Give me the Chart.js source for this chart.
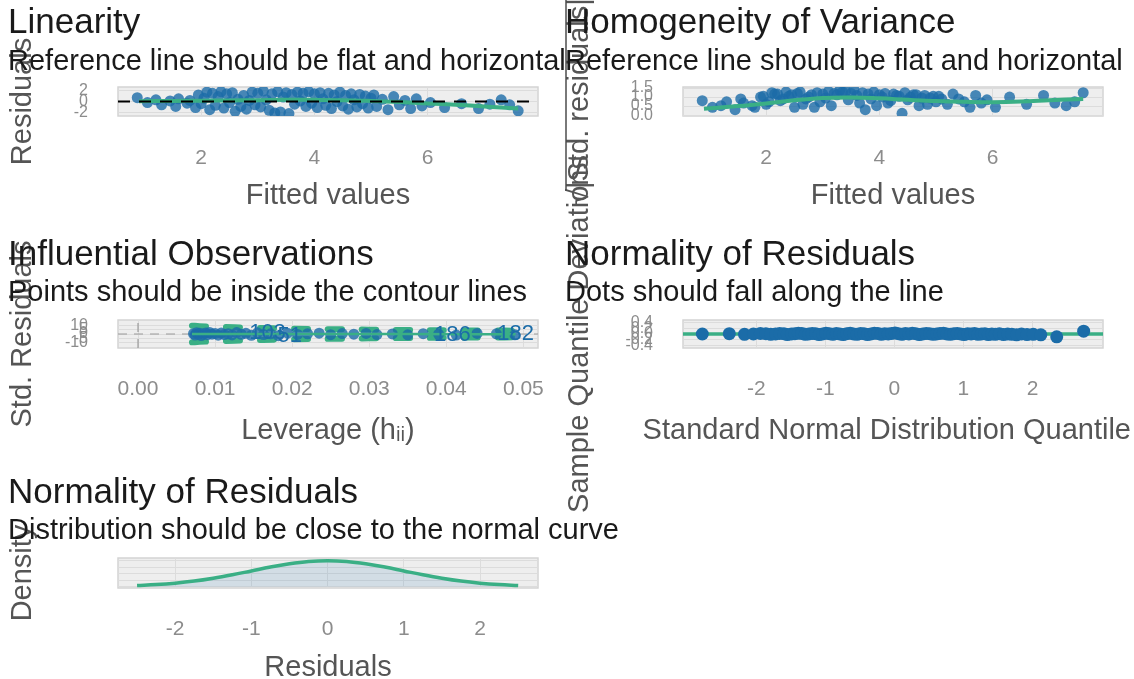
<!DOCTYPE html>
<html>
<head>
<meta charset="utf-8">
<script src="https://cdn.jsdelivr.net/npm/chart.js@4.4.1/dist/chart.umd.min.js"></script>
<style>
  body { margin: 0; background: #fff; }
  #wrap { position: relative; width: 1134px; height: 679px; overflow: hidden; }
  #wrap canvas { position: absolute; left: 0; top: 0; }
</style>
</head>
<body>
<div id="wrap">
  <canvas id="linearity" width="1134" height="679"></canvas>
  <canvas id="homogeneity" width="1134" height="679"></canvas>
  <canvas id="influential" width="1134" height="679"></canvas>
  <canvas id="qq" width="1134" height="679"></canvas>
  <canvas id="density" width="1134" height="679"></canvas>
</div>
<script>
// data

// fitted values / residuals (linearity + homogeneity share the x values)
const fitted = [
  0.87, 1.05, 1.2, 1.3, 1.45, 1.55, 1.6, 1.75, 1.8, 1.9,
  1.95, 2.0, 2.05, 2.1, 2.15, 2.2, 2.25, 2.3, 2.35, 2.4,
  2.45, 2.5, 2.55, 2.6, 2.65, 2.7, 2.75, 2.8, 2.85, 2.9,
  2.95, 3.0, 3.05, 3.1, 3.15, 3.2, 3.25, 3.3, 3.35, 3.4,
  3.45, 3.5, 3.55, 3.6, 3.65, 3.7, 3.75, 3.8, 3.85, 3.9,
  3.95, 4.0, 4.05, 4.1, 4.15, 4.2, 4.25, 4.3, 4.35, 4.4,
  4.45, 4.5, 4.55, 4.6, 4.65, 4.7, 4.75, 4.8, 4.85, 4.9,
  4.95, 5.0, 5.05, 5.1, 5.2, 5.3, 5.4, 5.5, 5.6, 5.7,
  5.8, 5.9, 6.05, 6.3, 6.6, 6.9, 7.1, 7.3, 7.45, 7.6
];
const residuals = [
  0.7, -0.2, 0.3, -0.6, 0.1, -0.9, 0.5, -0.3, 0.2, -1.1,
  1.2, -0.4, 0.6, 1.7, -1.5, 1.5, -0.7, 0.9, 1.8, -1.2,
  1.4, -0.2, 1.6, -1.8, 0.4, -0.9, 1.1, -1.4, 0.2, 1.7,
  -0.6, 1.5, -1.0, 1.9, 0.3, -1.6, 1.4, -2.1, 1.8, -1.9,
  0.8, 1.6, -2.2, 1.3, -0.5, 1.7, 0.1, 1.5, -0.9, 1.8,
  -0.3, 1.4, -1.1, 1.6, 0.5, -0.7, 1.5, -1.3, 1.2, 0.0,
  1.7, -0.8, 1.1, -1.4, 1.4, 0.3, -1.0, 1.3, -0.4, 1.0,
  -1.2, 0.6, 1.2, -0.9, 0.4, -1.5, 0.9, -0.6, 0.2, -1.3,
  0.5, -0.8, -0.2, -1.1, -0.4, -1.3, -0.5, 0.3, -0.6, -1.7
];
const sqrtStdResid = [
  0.8, 0.43, 0.52, 0.74, 0.3, 0.9, 0.67, 0.52, 0.43, 1.0,
  1.04, 0.6, 0.74, 1.24, 1.17, 1.17, 0.8, 0.9, 1.28, 1.04,
  1.13, 0.43, 1.2, 1.28, 0.6, 0.9, 1.0, 1.13, 0.43, 1.24,
  0.74, 1.17, 0.95, 1.31, 0.52, 1.2, 1.13, 1.38, 1.28, 1.31,
  0.85, 1.2, 1.41, 1.09, 0.67, 1.24, 0.3, 1.17, 0.9, 1.28,
  0.52, 1.13, 1.0, 1.2, 0.67, 0.8, 1.17, 1.09, 1.04, 0.1,
  1.24, 0.85, 1.0, 1.13, 1.13, 0.52, 0.95, 1.09, 0.6, 0.95,
  1.04, 0.74, 1.04, 0.9, 0.6, 1.17, 0.9, 0.74, 0.43, 1.09,
  0.67, 0.85, 0.43, 1.0, 0.6, 1.09, 0.67, 0.52, 0.74, 1.24
];
const smoothX = [0.9, 1.5, 2, 2.5, 3, 3.5, 4, 4.5, 5, 5.5, 6, 6.5, 7, 7.6];
const linSmoothY = [0.05, 0.1, 0.15, 0.2, 0.25, 0.3, 0.3, 0.25, 0.1, -0.1, -0.35, -0.6, -0.9, -1.3];
const homSmoothY = [0.35, 0.5, 0.65, 0.82, 0.95, 0.98, 0.93, 0.85, 0.78, 0.74, 0.72, 0.75, 0.82, 0.9];

// leverage / standardized residuals
const leverage = [
  0.0072, 0.0074, 0.0076, 0.0078, 0.008, 0.0082, 0.0085, 0.0088, 0.009, 0.0093,
  0.0096, 0.01, 0.0104, 0.0108, 0.0112, 0.0117, 0.0122, 0.0128, 0.0134, 0.014,
  0.0147, 0.0155, 0.0163, 0.0172, 0.0182, 0.0194, 0.0207, 0.022, 0.0235, 0.025,
  0.0265, 0.028, 0.0296, 0.031, 0.033, 0.035, 0.037, 0.039, 0.0413, 0.044,
  0.0465, 0.0489
];
const stdResid = [
  0.3, -1.2, 1.5, -0.4, 0.9, -1.8, 0.1, 1.2, -0.8, 1.7,
  -0.2, 0.6, -1.4, 1.1, -0.6, 0.4, -1.0, 1.6, -0.3, 0.8,
  -1.5, 1.3, -0.7, 0.2, -1.9, 0.9, -0.5, 0.3, 1.0, -0.8,
  0.5, -0.2, 0.7, -0.6, 0.1, -0.9, 0.4, -0.3, -1.2, 0.6,
  0.2, -0.9
];
const infSmoothX = [0.007, 0.015, 0.025, 0.035, 0.049];
const infSmoothY = [0.1, 0.0, -0.05, -0.1, -0.2];
const cookLev = [0.007, 0.008, 0.01, 0.0125, 0.015, 0.0175, 0.02, 0.025, 0.03, 0.035, 0.04, 0.045, 0.05];
const cookUpper = [9.5, 9.0, 8.3, 7.6, 7.0, 6.5, 6.1, 5.5, 5.0, 4.6, 4.3, 4.0, 3.8];
const cookLower = [-9.5, -9.0, -8.3, -7.6, -7.0, -6.5, -6.1, -5.5, -5.0, -4.6, -4.3, -4.0, -3.8];
const labelIds = ['103', '51', '186', '182'];
const labelLev = [0.0168, 0.0197, 0.0408, 0.049];
const labelStd = [1.0, -2.4, -1.2, -0.4];

// detrended qq
const qqTheo = [
  -2.78, -2.39, -2.17, -2.04, -1.94, -1.86, -1.79, -1.72, -1.66, -1.6,
  -1.55, -1.49, -1.44, -1.39, -1.34, -1.29, -1.24, -1.19, -1.14, -1.09,
  -1.04, -0.99, -0.94, -0.89, -0.84, -0.79, -0.74, -0.69, -0.64, -0.59,
  -0.54, -0.49, -0.44, -0.39, -0.34, -0.29, -0.24, -0.19, -0.14, -0.09,
  -0.04, 0.01, 0.06, 0.11, 0.16, 0.21, 0.26, 0.31, 0.36, 0.41,
  0.46, 0.51, 0.56, 0.61, 0.66, 0.71, 0.76, 0.81, 0.86, 0.91,
  0.96, 1.01, 1.06, 1.11, 1.16, 1.21, 1.26, 1.31, 1.36, 1.41,
  1.46, 1.52, 1.58, 1.64, 1.7, 1.77, 1.84, 1.92, 2.01, 2.12,
  2.35, 2.74
];
const qqDev = [
  0.0, 0.01, -0.01, 0.0, 0.02, 0.01, -0.01, 0.0, 0.02, 0.01,
  -0.02, 0.0, 0.01, 0.03, 0.02, -0.01, 0.0, 0.02, 0.01, -0.02,
  0.0, 0.03, 0.01, -0.01, 0.02, 0.0, -0.02, 0.01, 0.03, 0.0,
  -0.01, 0.02, 0.01, -0.02, 0.0, 0.03, 0.02, -0.01, 0.01, 0.0,
  0.02, 0.04, 0.01, -0.01, 0.02, 0.0, 0.03, 0.01, -0.02, 0.0,
  0.02, 0.01, -0.01, 0.0, 0.02, 0.03, 0.0, -0.01, 0.01, 0.02,
  0.0, -0.02, 0.01, 0.0, 0.02, -0.01, 0.0, 0.01, -0.02, 0.0,
  -0.01, 0.01, -0.02, 0.0, -0.01, -0.03, 0.0, -0.02, -0.01, -0.03,
  -0.1, 0.1
];

// residual density vs normal curve
const densX = [-2.5, -2.25, -2, -1.75, -1.5, -1.25, -1, -0.75, -0.5, -0.25, 0, 0.25, 0.5, 0.75, 1, 1.25, 1.5, 1.75, 2, 2.25, 2.5];
const normalY = [0.018, 0.032, 0.054, 0.086, 0.13, 0.183, 0.242, 0.301, 0.352, 0.387, 0.399, 0.387, 0.352, 0.301, 0.242, 0.183, 0.13, 0.086, 0.054, 0.032, 0.018];
const residDensY = [0.02, 0.034, 0.056, 0.09, 0.134, 0.186, 0.245, 0.303, 0.352, 0.386, 0.398, 0.389, 0.356, 0.305, 0.244, 0.182, 0.127, 0.083, 0.05, 0.029, 0.016];

// tick labels
const fitTicks = [2, 4, 6];
const residTicks = [-2, 0, 2];
const homTicks = [0, 0.5, 1, 1.5];
const levTicks = [0, 0.01, 0.02, 0.03, 0.04, 0.05];
const stdTicks = [-10, -5, 0, 5, 10];
const qqTicks = [-2, -1, 0, 1, 2];
const qqYTicks = [-0.4, -0.2, 0, 0.2, 0.4];
const densTicks = [-2, -1, 0, 1, 2];

const homYTitle = '\u221A|Std. residuals|';
const qqXTitle = 'Standard Normal Distribution Quantile';

const BLUE = 'rgba(27, 108, 168, 0.8)';
const GREEN = '#3aaf85';
const FONT = "'Liberation Sans', Arial, Helvetica, sans-serif";
Chart.defaults.font.family = FONT;

function pts(xs, ys) {
    return xs.map((x, i) => ({ x: x, y: ys[i] }));
}

// grey panel behind every plot
const panelBg = {
    id: 'panelBg',
    beforeDraw(chart) {
        const a = chart.chartArea, ctx = chart.ctx;
        ctx.save();
        ctx.fillStyle = '#eeeeee';
        ctx.fillRect(a.left, a.top, a.width, a.height);
        ctx.strokeStyle = '#d4d4d4';
        ctx.lineWidth = 1.5;
        ctx.strokeRect(a.left, a.top, a.width, a.height);
        ctx.restore();
    }
};

// let title / subtitle run past the plot instead of being squeezed
const wideTitles = {
    id: 'wideTitles',
    afterLayout(chart) {
        chart.boxes.forEach(b => {
            if (b instanceof Chart.Title._element) b.right = chart.width;
        });
    }
};

// point ids in the leverage plot
const obsLabels = {
    id: 'obsLabels',
    afterDatasetsDraw(chart) {
        const ctx = chart.ctx, x = chart.scales.x, y = chart.scales.y;
        ctx.save();
        ctx.font = '22px ' + FONT;
        ctx.fillStyle = '#1b6ca8';
        ctx.textAlign = 'center';
        ctx.textBaseline = 'middle';
        for (let i = 0; i < labelIds.length; i++) {
            ctx.fillText(labelIds[i], x.getPixelForValue(labelLev[i]), y.getPixelForValue(labelStd[i]));
        }
        ctx.restore();
    }
};

// bar of the square root sign in the rotated y title
const sqrtBar = {
    id: 'sqrtBar',
    afterDraw(chart) {
        const ctx = chart.ctx, y = chart.scales.y, a = chart.chartArea;
        ctx.save();
        ctx.font = '29px ' + FONT;
        const full = ctx.measureText(homYTitle).width;
        const rad = ctx.measureText('\u221A').width;
        const cy = (a.top + a.bottom) / 2;
        ctx.strokeStyle = '#4d4d4d';
        ctx.lineWidth = 1.5;
        ctx.beginPath();
        ctx.moveTo(y.left + 1, cy + full / 2 - rad + 2);
        ctx.lineTo(y.left + 1, cy - full / 2);
        ctx.stroke();
        ctx.restore();
    }
};

// long x title of the qq plot, not squeezed to the panel width
const qqTitle = {
    id: 'qqTitle',
    afterDraw(chart) {
        const ctx = chart.ctx, x = chart.scales.x;
        ctx.save();
        ctx.font = '29px ' + FONT;
        ctx.fillStyle = '#555555';
        ctx.textAlign = 'center';
        ctx.textBaseline = 'middle';
        const w = ctx.measureText(qqXTitle).width;
        const cx = Math.min((x.left + x.right) / 2, chart.width - w / 2 - 3);
        ctx.fillText(qqXTitle, cx, x.bottom - 11.5);
        ctx.restore();
    }
};

function panel(id, o) {
    return new Chart(document.getElementById(id), {
        type: 'scatter',
        data: { datasets: o.datasets },
        plugins: [panelBg, wideTitles].concat(o.plugins || []),
        options: {
            responsive: false,
            animation: false,
            events: [],
            layout: { padding: o.pad },
            plugins: {
                legend: { display: false },
                tooltip: { enabled: false },
                title: {
                    display: true, text: o.title, align: 'start', color: '#1a1a1a',
                    font: { size: 35, weight: 'normal', lineHeight: 1.2 },
                    padding: o.titlePad
                },
                subtitle: {
                    display: true, text: o.subtitle, align: 'start', color: '#1a1a1a',
                    font: { size: 29, lineHeight: 1.2 },
                    padding: o.subPad
                }
            },
            scales: {
                x: {
                    type: 'linear', min: o.xMin, max: o.xMax,
                    afterBuildTicks: a => { a.ticks = o.xTicks.map(v => ({ value: v })); },
                    afterFit: a => { a.height = o.xH; },
                    grid: { color: '#dcdcdc', drawTicks: false },
                    border: { display: false },
                    ticks: {
                        autoSkip: false, maxRotation: 0, padding: o.xPad, color: '#8c8c8c',
                        font: { size: 21 },
                        callback: v => o.xFmt !== undefined ? v.toFixed(o.xFmt) : String(v)
                    },
                    title: {
                        display: !!o.xTitle, text: o.xTitle, color: '#555555',
                        font: { size: 29, lineHeight: 1 }, padding: { top: 0, bottom: -3 }
                    }
                },
                y: {
                    type: 'linear', min: o.yMin, max: o.yMax,
                    afterBuildTicks: a => { a.ticks = o.yTicks.map(v => ({ value: v })); },
                    afterFit: a => { a.width = o.yW; },
                    grid: { color: '#dcdcdc', drawTicks: false },
                    border: { display: false },
                    ticks: {
                        display: o.yTickShow !== false,
                        autoSkip: false, padding: 30, color: '#8c8c8c',
                        font: { size: 16 },
                        callback: v => o.yFmt !== undefined ? v.toFixed(o.yFmt) : String(v)
                    },
                    title: {
                        display: true, text: o.yTitle, color: '#555555',
                        font: { size: 29, lineHeight: 1 }, padding: 0
                    }
                }
            }
        }
    });
}

// Linearity
panel('linearity', {
    title: 'Linearity',
    subtitle: 'Reference line should be flat and horizontal',
    titlePad: { top: 2, bottom: 0 },
    subPad: { top: 0.6, bottom: 7.6 },
    pad: { left: 8, top: 0, right: 596, bottom: 471.5 },
    xMin: 0.53, xMax: 7.95, xTicks: fitTicks, xH: 91.5, xPad: 30, xTitle: 'Fitted values',
    yMin: -2.65, yMax: 2.65, yTicks: residTicks, yW: 110, yTitle: 'Residuals',
    datasets: [
        { data: [{ x: 0.53, y: 0 }, { x: 7.95, y: 0 }], showLine: true, borderColor: '#000', borderWidth: 2, borderDash: [12, 9], pointRadius: 0 },
        { data: pts(smoothX, linSmoothY), showLine: true, borderColor: GREEN, borderWidth: 4, tension: 0.4, pointRadius: 0 },
        { data: pts(fitted, residuals), backgroundColor: BLUE, borderWidth: 0, pointRadius: 5.5 }
    ]
});

// Homogeneity of variance
panel('homogeneity', {
    title: 'Homogeneity of Variance',
    subtitle: 'Reference line should be flat and horizontal',
    titlePad: { top: 2, bottom: 0 },
    subPad: { top: 0.6, bottom: 7.6 },
    pad: { left: 565, top: 0, right: 31, bottom: 471.5 },
    xMin: 0.53, xMax: 7.95, xTicks: fitTicks, xH: 91.5, xPad: 30, xTitle: 'Fitted values',
    yMin: -0.05, yMax: 1.56, yTicks: homTicks, yW: 118, yTitle: homYTitle, yFmt: 1,
    plugins: [sqrtBar],
    datasets: [
        { data: pts(smoothX, homSmoothY), showLine: true, borderColor: GREEN, borderWidth: 4, tension: 0.4, pointRadius: 0 },
        { data: pts(fitted, sqrtStdResid), backgroundColor: BLUE, borderWidth: 0, pointRadius: 5.5 }
    ]
});

// Influential observations
panel('influential', {
    title: 'Influential Observations',
    subtitle: 'Points should be inside the contour lines',
    titlePad: { top: 1, bottom: 0 },
    subPad: { top: 0, bottom: 9.2 },
    pad: { left: 8, top: 233, right: 596, bottom: 236.5 },
    xMin: -0.0026, xMax: 0.0519, xTicks: levTicks, xH: 94.5, xPad: 29, xTitle: 'Leverage (h\u1D62\u1D62)', xFmt: 2,
    yMin: -16, yMax: 16, yTicks: stdTicks, yW: 110, yTitle: 'Std. Residuals',
    plugins: [obsLabels],
    datasets: [
        { data: pts(infSmoothX, infSmoothY), showLine: true, borderColor: GREEN, borderWidth: 2.5, tension: 0.4, pointRadius: 0 },
        { data: pts(leverage, stdResid), backgroundColor: BLUE, borderWidth: 0, pointRadius: 5.5 },
        { data: pts(cookLev, cookUpper), showLine: true, borderColor: GREEN, borderWidth: 6, borderCapStyle: 'round', borderDash: [14, 20], tension: 0.4, pointRadius: 0 },
        { data: pts(cookLev, cookLower), showLine: true, borderColor: GREEN, borderWidth: 6, borderCapStyle: 'round', borderDash: [14, 20], tension: 0.4, pointRadius: 0 },
        { data: [{ x: -0.0026, y: 0 }, { x: 0.0519, y: 0 }], showLine: true, borderColor: '#9a9a9a', borderWidth: 1.2, borderDash: [9, 7], pointRadius: 0 },
        { data: [{ x: 0, y: -16 }, { x: 0, y: 16 }], showLine: true, borderColor: '#9a9a9a', borderWidth: 1.2, borderDash: [9, 7], pointRadius: 0 }
    ]
});

// Normality (qq)
panel('qq', {
    title: 'Normality of Residuals',
    subtitle: 'Dots should fall along the line',
    titlePad: { top: 1, bottom: 0 },
    subPad: { top: 0, bottom: 9.2 },
    pad: { left: 565, top: 233, right: 31, bottom: 236.5 },
    xMin: -3.06, xMax: 3.02, xTicks: qqTicks, xH: 94.5, xPad: 29, xTitle: '',
    yMin: -0.5, yMax: 0.5, yTicks: qqYTicks, yW: 118, yTitle: 'Sample Quantile Deviations', yFmt: 1,
    plugins: [qqTitle],
    datasets: [
        { data: pts(qqTheo, qqDev), backgroundColor: '#1b6ca8', borderWidth: 0, pointRadius: 6.5 },
        { data: [{ x: -3.06, y: 0 }, { x: 3.02, y: 0 }], showLine: true, borderColor: GREEN, borderWidth: 3.5, pointRadius: 0 }
    ]
});

// Normality (density)
panel('density', {
    title: 'Normality of Residuals',
    subtitle: 'Distribution should be close to the normal curve',
    titlePad: { top: 2, bottom: 0 },
    subPad: { top: 0, bottom: 9.2 },
    pad: { left: 8, top: 470, right: 596, bottom: 0 },
    xMin: -2.75, xMax: 2.76, xTicks: densTicks, xH: 91, xPad: 29, xTitle: 'Residuals',
    yMin: -0.02, yMax: 0.44, yTicks: [0, 0.1, 0.2, 0.3, 0.4], yW: 110, yTitle: 'Density', yTickShow: false,
    datasets: [
        { data: pts(densX, normalY), showLine: true, borderColor: GREEN, borderWidth: 3.5, tension: 0.4, pointRadius: 0 },
        { data: pts(densX, residDensY), showLine: true, fill: 'origin', backgroundColor: 'rgba(27, 108, 168, 0.13)', borderWidth: 0, tension: 0.4, pointRadius: 0 }
    ]
});
</script>
</body>
</html>
